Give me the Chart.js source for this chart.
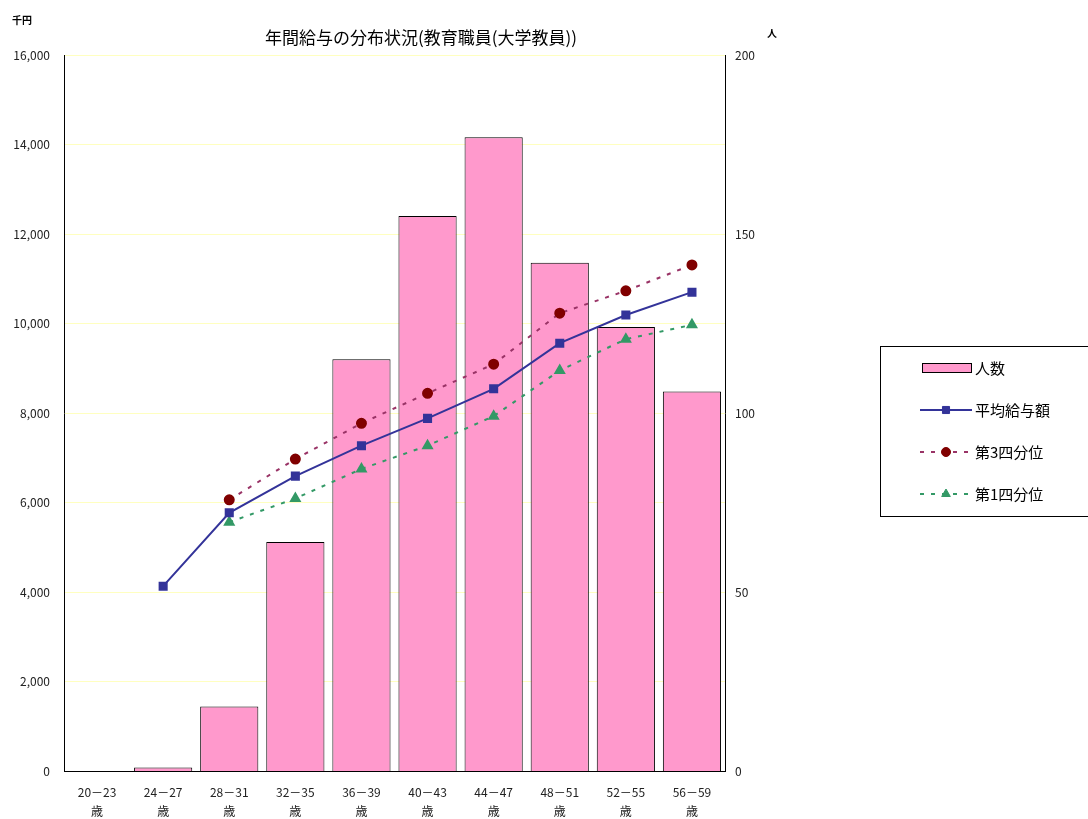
<!DOCTYPE html>
<html lang="ja">
<head>
<meta charset="utf-8">
<title>年間給与の分布状況(教育職員(大学教員))</title>
<script src="https://cdn.jsdelivr.net/npm/chart.js@4/dist/chart.umd.min.js"></script>
<style>
  html, body { margin: 0; padding: 0; background: #fff; }
  #wrap { position: relative; width: 1088px; height: 819px; }
</style>
</head>
<body>
<div id="wrap"><canvas id="chart" width="1088" height="819"></canvas></div>
<script>
// age groups (two-line labels)
const AGE_LABELS = [
  ['20－23', '歳'], ['24－27', '歳'], ['28－31', '歳'], ['32－35', '歳'], ['36－39', '歳'],
  ['40－43', '歳'], ['44－47', '歳'], ['48－51', '歳'], ['52－55', '歳'], ['56－59', '歳'],
];

// 人数 (right axis, persons)
const PEOPLE = [0, 1, 18, 64, 115, 155, 177, 142, 124, 106];
// 平均給与額 (left axis, 千円)
const AVG_PAY = [null, 4130, 5770, 6590, 7270, 7880, 8540, 9560, 10190, 10700];
// 第3四分位
const Q3_PAY = [null, null, 6060, 6970, 7770, 8440, 9090, 10230, 10730, 11310];
// 第1四分位
const Q1_PAY = [null, null, 5560, 6090, 6750, 7270, 7930, 8950, 9650, 9970];

const LEFT_TICKS = { min: 0, max: 16000, step: 2000 };
const RIGHT_TICKS = { min: 0, max: 200, step: 50 };

const FONT = '"Noto Sans CJK JP", "Noto Sans", sans-serif';

// ─────────────────────────────────────────────
// Title, unit labels and boxed legend
// ─────────────────────────────────────────────
const decorPlugin = {
  id: 'decor',
  afterDraw(chart) {
    const ctx = chart.ctx;
    ctx.save();
    ctx.fillStyle = '#000';
    ctx.textBaseline = 'middle';

    ctx.font = '17px ' + FONT;
    ctx.textAlign = 'center';
    ctx.fillText('年間給与の分布状況(教育職員(大学教員))', 421, 38);

    ctx.font = 'bold 10px ' + FONT;
    ctx.textAlign = 'left';
    ctx.fillText('千円', 12, 20);
    ctx.fillText('人', 767, 33);

    // legend box
    ctx.strokeStyle = '#000';
    ctx.lineWidth = 1;
    ctx.strokeRect(880.5, 346.5, 220, 170);

    const ds = chart.data.datasets;
    const rows = [368, 410, 452, 494];
    ctx.font = '15px ' + FONT;

    // bar swatch
    ctx.fillStyle = ds[0].backgroundColor;
    ctx.fillRect(922, 363, 50, 10);
    ctx.strokeStyle = '#000';
    ctx.strokeRect(922.5, 363.5, 49, 9);
    ctx.fillStyle = '#000';
    ctx.fillText(ds[0].label, 975, rows[0]);

    for (let i = 1; i < 4; i++) {
      const d = ds[i];
      const y = rows[i];
      ctx.save();
      ctx.strokeStyle = d.borderColor;
      ctx.lineWidth = d.borderWidth;
      ctx.setLineDash(d.borderDash || []);
      ctx.beginPath();
      ctx.moveTo(920, y);
      ctx.lineTo(972, y);
      ctx.stroke();
      ctx.restore();
      ctx.fillStyle = d.pointBackgroundColor;
      ctx.strokeStyle = d.pointBorderColor;
      Chart.helpers.drawPoint(ctx, {
        pointStyle: d.pointStyle, radius: d.pointRadius, rotation: 0, borderWidth: 1
      }, 946, y);
      ctx.fillStyle = '#000';
      ctx.fillText(d.label, 975, y);
    }
    ctx.restore();
  }
};

new Chart(document.getElementById('chart'), {
  type: 'bar',
  data: {
    labels: AGE_LABELS,
    datasets: [
      {
        type: 'bar',
        label: '人数',
        data: PEOPLE,
        yAxisID: 'y1',
        backgroundColor: '#ff99cc',
        borderColor: '#000',
        borderWidth: 1,
        borderSkipped: 'start',
        categoryPercentage: 1.0,
        barPercentage: 0.88,
        order: 2,
      },
      {
        type: 'line',
        label: '平均給与額',
        data: AVG_PAY,
        yAxisID: 'y',
        borderColor: '#333399',
        borderWidth: 2,
        pointStyle: 'rect',
        pointRadius: 5,
        pointBackgroundColor: '#333399',
        pointBorderColor: '#333399',
        tension: 0,
        order: 1,
      },
      {
        type: 'line',
        label: '第3四分位',
        data: Q3_PAY,
        yAxisID: 'y',
        borderColor: '#993366',
        borderWidth: 2,
        borderDash: [4, 7],
        pointStyle: 'circle',
        pointRadius: 4.5,
        pointBackgroundColor: '#800000',
        pointBorderColor: '#800000',
        tension: 0,
        order: 1,
      },
      {
        type: 'line',
        label: '第1四分位',
        data: Q1_PAY,
        yAxisID: 'y',
        borderColor: '#339966',
        borderWidth: 2,
        borderDash: [4, 7],
        pointStyle: 'triangle',
        pointRadius: 5,
        pointBackgroundColor: '#339966',
        pointBorderColor: '#339966',
        tension: 0,
        order: 1,
      },
    ]
  },
  options: {
    responsive: false,
    animation: false,
    layout: { padding: { top: 55, left: 0, right: 0, bottom: 0 } },
    plugins: {
      legend: { display: false },
      title: { display: false },
      tooltip: { enabled: false },
    },
    scales: {
      x: {
        offset: true,
        grid: { display: false, drawTicks: false },
        border: { display: true, color: '#000', width: 1 },
        ticks: {
          color: '#222',
          font: { family: FONT, size: 12, lineHeight: '19px' },
          padding: 12,
          maxRotation: 0,
          autoSkip: false,
        },
        afterFit(scale) { scale.height = 48; },
      },
      y: {
        position: 'left',
        min: LEFT_TICKS.min,
        max: LEFT_TICKS.max,
        grid: { color: '#ffffc0', lineWidth: 1, drawTicks: false },
        border: { display: true, color: '#000', width: 1 },
        ticks: {
          stepSize: LEFT_TICKS.step,
          color: '#222',
          padding: 14,
          font: { family: FONT, size: 12 },
          callback: v => v.toLocaleString('en-US'),
        },
        afterFit(scale) { scale.width = 64; },
      },
      y1: {
        position: 'right',
        min: RIGHT_TICKS.min,
        max: RIGHT_TICKS.max,
        grid: { display: false, drawTicks: false },
        border: { display: true, color: '#000', width: 1 },
        ticks: {
          stepSize: RIGHT_TICKS.step,
          color: '#222',
          padding: 10,
          font: { family: FONT, size: 12 },
        },
        afterFit(scale) { scale.width = 363; },
      },
    }
  },
  plugins: [decorPlugin]
});
</script>
</body>
</html>
